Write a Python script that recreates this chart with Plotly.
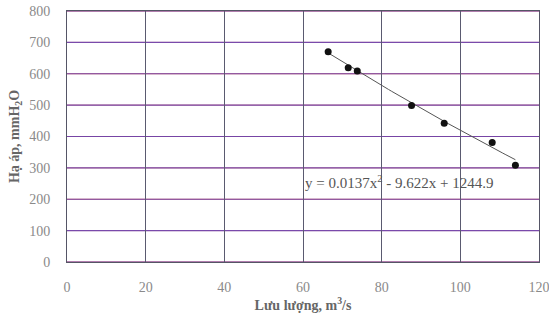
import plotly.graph_objects as go
import numpy as np

# Data
flow = [66.4, 71.5, 73.8, 87.6, 95.9, 108.1, 114.0]
pressure = [670, 619, 609, 499, 442, 381, 308]
# Trendline coefficients (polynomial, order 2), as printed on the chart
coef = [0.0137, -9.622, 1244.9]
x_ticks = [0, 20, 40, 60, 80, 100, 120]
y_ticks = [0, 100, 200, 300, 400, 500, 600, 700, 800]

xt = np.linspace(min(flow), max(flow), 60)
yt = np.polyval(coef, xt)

fig = go.Figure()
# colourful scan-like horizontal gridlines
for v in y_ticks:
    fig.add_shape(type="line", xref="x", yref="y", x0=0, x1=120, y0=v, y1=v,
                  line=dict(color="#d0453f", width=1), layer="below")
    fig.add_shape(type="line", xref="x", yref="y", x0=0, x1=120, y0=v, y1=v,
                  line=dict(color="rgba(90,70,200,0.75)", width=1.2), layer="below")

fig.add_trace(go.Scatter(x=xt, y=yt, mode="lines",
                         line=dict(color="#555555", width=1), showlegend=False))
fig.add_trace(go.Scatter(x=flow, y=pressure, mode="markers",
                         marker=dict(color="#111111", size=7), showlegend=False))

fig.add_annotation(x=60.0, y=256, xref="x", yref="y", xanchor="left", yanchor="middle",
                   text="y = 0.0137x<sup>2</sup> - 9.622x + 1244.9", showarrow=False,
                   font=dict(family="Liberation Serif", size=15, color="#555555"))

fig.update_xaxes(range=[0, 120], tickvals=x_ticks, showgrid=True, gridcolor="#5a5a70",
                 gridwidth=1, showline=True, linecolor="#555566", linewidth=1, mirror=True,
                 zeroline=False, ticks="", ticklabelstandoff=12, automargin=False,
                 ticklabeloverflow="allow",
                 tickfont=dict(family="Liberation Serif", size=14, color="#8a8a8a"),
                 title=dict(text="<b>Lưu lượng, m<sup>3</sup>/s</b>", standoff=4,
                            font=dict(family="Liberation Serif", size=14, color="#666666")))
fig.update_yaxes(range=[0, 800], tickvals=y_ticks, showgrid=False,
                 showline=True, linecolor="#555566", linewidth=1, mirror=True,
                 zeroline=False, ticks="", ticklabelstandoff=13, automargin=False,
                 ticklabeloverflow="allow",
                 tickfont=dict(family="Liberation Serif", size=14, color="#8a8a8a"),
                 title=dict(text="<b>Hạ áp, mmH<sub>2</sub>O</b>", standoff=6,
                            font=dict(family="Liberation Serif", size=14, color="#666666")))

fig.update_layout(width=549, height=321, margin=dict(l=67, r=10, t=11, b=59),
                  plot_bgcolor="white", paper_bgcolor="white")
# remove the page's default 8px body margin so the figure sits at the window origin
fig.write_html("out.html", config={"displayModeBar": False},
               post_script="document.body.style.margin='0';")
